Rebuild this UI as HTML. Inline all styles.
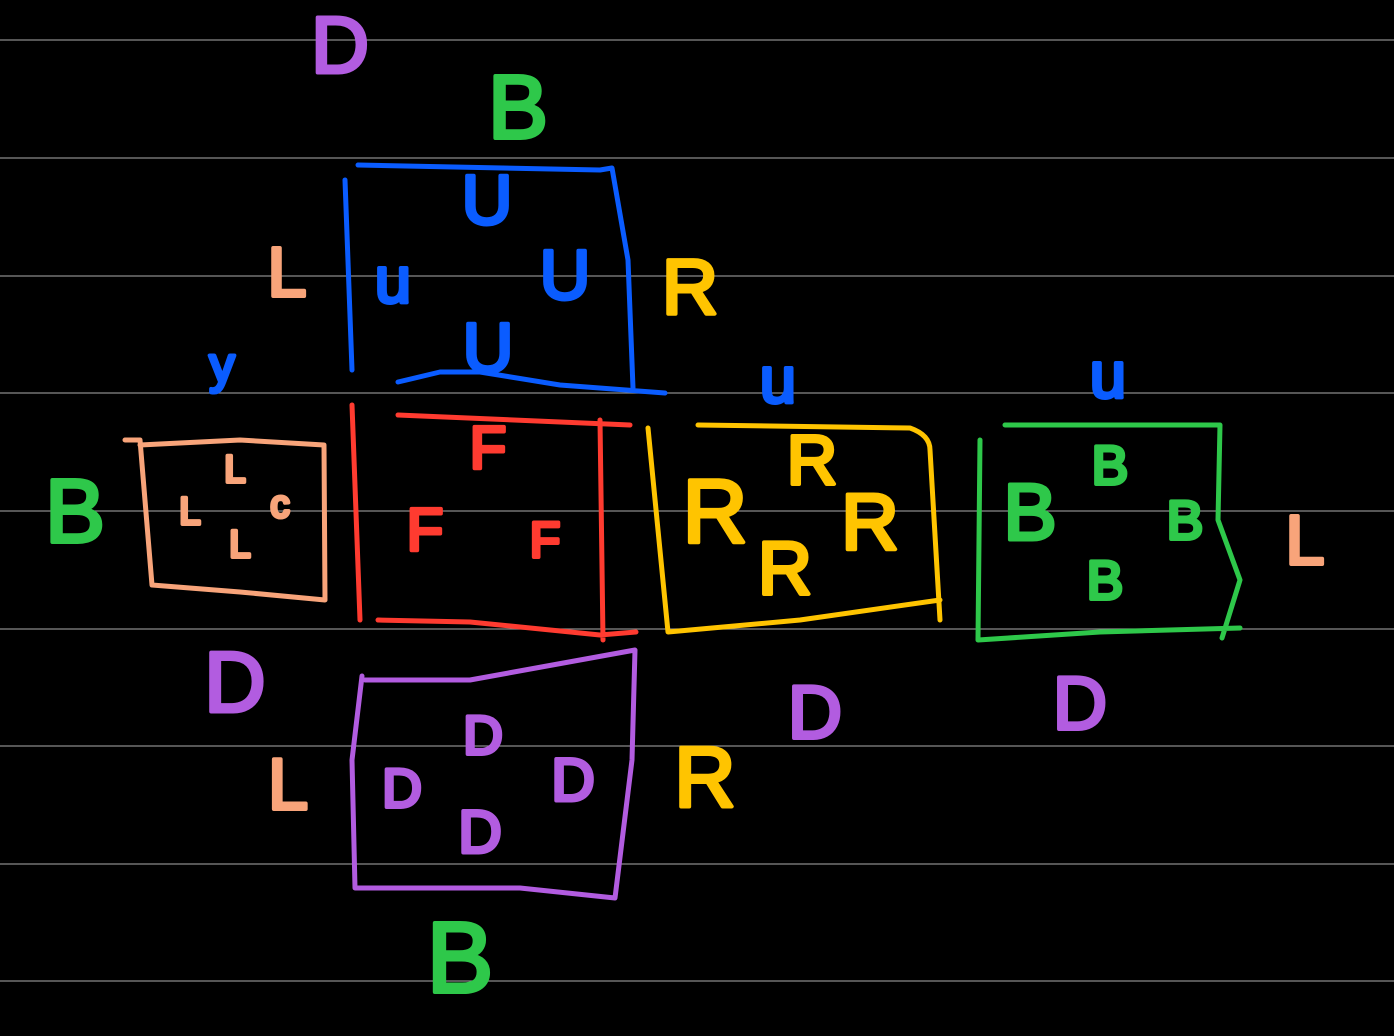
<!DOCTYPE html>
<html><head><meta charset="utf-8"><style>
html,body{margin:0;padding:0;background:#000;}
svg{display:block}
text{font-family:"Liberation Sans",sans-serif;text-anchor:middle;dominant-baseline:central;}
.lt text{stroke-width:4;stroke-linejoin:round;}
</style></head><body>
<svg width="1394" height="1036" viewBox="0 0 1394 1036">
<g stroke="#8a8a8a" stroke-width="1.2">
<line x1="0" y1="40" x2="1394" y2="40"/><line x1="0" y1="158" x2="1394" y2="158"/>
<line x1="0" y1="276" x2="1394" y2="276"/><line x1="0" y1="393" x2="1394" y2="393"/>
<line x1="0" y1="511" x2="1394" y2="511"/><line x1="0" y1="629" x2="1394" y2="629"/>
<line x1="0" y1="746" x2="1394" y2="746"/><line x1="0" y1="864" x2="1394" y2="864"/>
<line x1="0" y1="981" x2="1394" y2="981"/>
</g>
<g fill="none" stroke-width="5" stroke-linecap="round" stroke-linejoin="round">
<path stroke="#0a5cff" d="M358 165 L600 170 L612 168 L628 260 L633 388 M345 180 L352 370 M398 382 L440 372 L480 372 L560 385 L665 393"/>
<path stroke="#f8a47a" d="M125 440 L140 440 L152 585 L240 592 L325 600 L324 445 L240 440 L140 445"/>
<path stroke="#ff3b30" d="M352 405 L360 620 M398 415 L630 425 M600 420 L603 640 M378 620 L470 622 L600 635 L636 632"/>
<path stroke="#ffc400" d="M698 425 L910 428 Q930 435 930 450 L940 620 M648 428 L668 632 L800 620 L940 600"/>
<path stroke="#2ec84a" d="M1005 425 L1220 425 L1218 520 L1240 580 L1222 638 M980 440 L978 640 L1100 632 L1240 628"/>
<path stroke="#b25ce0" d="M365 680 L470 680 L635 650 L632 760 L615 898 L520 888 L355 888 L352 760 L362 676"/>
</g>
<g class="lt">
<text x="340" y="45" font-size="80" fill="#b25ce0" stroke="#b25ce0">D</text>
<text x="518" y="108" font-size="90" fill="#2ec84a" stroke="#2ec84a">B</text>
<text x="487" y="200" font-size="70" fill="#0a5cff" stroke="#0a5cff">U</text>
<text x="393" y="280" font-size="65" fill="#0a5cff" stroke="#0a5cff">u</text>
<text x="565" y="275" font-size="70" fill="#0a5cff" stroke="#0a5cff">U</text>
<text x="488" y="348" font-size="70" fill="#0a5cff" stroke="#0a5cff">U</text>
<text x="287" y="272" font-size="70" fill="#f8a47a" stroke="#f8a47a">L</text>
<text x="690" y="287" font-size="78" fill="#ffc400" stroke="#ffc400">R</text>
<text x="222" y="365" font-size="50" fill="#0a5cff" stroke="#0a5cff">y</text>
<text x="75" y="512" font-size="90" fill="#2ec84a" stroke="#2ec84a">B</text>
<text x="235" y="470" font-size="38" fill="#f8a47a" stroke="#f8a47a">L</text>
<text x="190" y="512" font-size="38" fill="#f8a47a" stroke="#f8a47a">L</text>
<text x="280" y="505" font-size="38" fill="#f8a47a" stroke="#f8a47a">c</text>
<text x="240" y="545" font-size="38" fill="#f8a47a" stroke="#f8a47a">L</text>
<text x="488" y="448" font-size="60" fill="#ff3b30" stroke="#ff3b30">F</text>
<text x="425" y="530" font-size="60" fill="#ff3b30" stroke="#ff3b30">F</text>
<text x="545" y="540" font-size="50" fill="#ff3b30" stroke="#ff3b30">F</text>
<text x="778" y="380" font-size="65" fill="#0a5cff" stroke="#0a5cff">u</text>
<text x="715" y="512" font-size="90" fill="#ffc400" stroke="#ffc400">R</text>
<text x="812" y="460" font-size="70" fill="#ffc400" stroke="#ffc400">R</text>
<text x="870" y="522" font-size="80" fill="#ffc400" stroke="#ffc400">R</text>
<text x="785" y="568" font-size="75" fill="#ffc400" stroke="#ffc400">R</text>
<text x="1108" y="375" font-size="65" fill="#0a5cff" stroke="#0a5cff">u</text>
<text x="1030" y="512" font-size="80" fill="#2ec84a" stroke="#2ec84a">B</text>
<text x="1110" y="465" font-size="55" fill="#2ec84a" stroke="#2ec84a">B</text>
<text x="1185" y="520" font-size="55" fill="#2ec84a" stroke="#2ec84a">B</text>
<text x="1105" y="580" font-size="55" fill="#2ec84a" stroke="#2ec84a">B</text>
<text x="1305" y="540" font-size="70" fill="#f8a47a" stroke="#f8a47a">L</text>
<text x="235" y="683" font-size="85" fill="#b25ce0" stroke="#b25ce0">D</text>
<text x="815" y="712" font-size="75" fill="#b25ce0" stroke="#b25ce0">D</text>
<text x="1080" y="703" font-size="75" fill="#b25ce0" stroke="#b25ce0">D</text>
<text x="483" y="735" font-size="55" fill="#b25ce0" stroke="#b25ce0">D</text>
<text x="402" y="788" font-size="55" fill="#b25ce0" stroke="#b25ce0">D</text>
<text x="573" y="780" font-size="60" fill="#b25ce0" stroke="#b25ce0">D</text>
<text x="480" y="832" font-size="60" fill="#b25ce0" stroke="#b25ce0">D</text>
<text x="288" y="785" font-size="72" fill="#f8a47a" stroke="#f8a47a">L</text>
<text x="705" y="778" font-size="85" fill="#ffc400" stroke="#ffc400">R</text>
<text x="460" y="958" font-size="100" fill="#2ec84a" stroke="#2ec84a">B</text>
</g>
</svg>
</body></html>
